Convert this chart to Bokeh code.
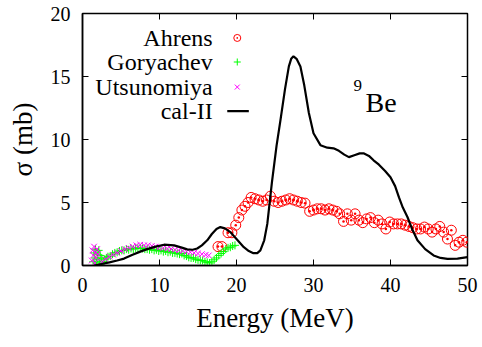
from bokeh.plotting import figure
from bokeh.models import Range1d, FixedTicker, Label
from bokeh.embed import file_html
from bokeh.resources import INLINE

# ---- data ----
ahrens_E = [17.6, 18.1, 18.9, 19.4, 19.9, 20.3, 20.7, 21.1, 21.5, 21.9, 22.4, 22.9, 23.4, 23.9,
            24.4, 24.9, 25.4, 25.9, 26.4, 26.9, 27.4, 27.9, 28.4, 28.9, 29.5, 30.0, 30.5, 31.0,
            31.5, 32.0, 32.5, 33.0, 33.4, 33.9, 34.4, 34.9, 35.4, 35.9, 36.4, 36.9, 37.4, 37.9,
            38.4, 38.9, 39.4, 39.9, 40.4, 40.9, 41.4, 41.9, 42.4, 42.9, 43.4, 43.9, 44.4, 44.9,
            45.4, 45.9, 46.4, 46.9, 47.4, 47.9, 48.4, 48.9, 49.4, 49.9]
ahrens_sig = [1.5, 1.5, 2.6, 2.6, 3.2, 3.8, 4.4, 4.7, 5.0, 5.4, 5.3, 5.2, 5.1, 5.2,
              5.5, 5.1, 5.0, 5.1, 5.2, 5.3, 5.2, 5.1, 5.0, 4.95, 4.3, 4.4, 4.5, 4.5,
              4.4, 4.5, 4.4, 4.3, 4.1, 3.5, 4.1, 3.6, 4.1, 3.6, 3.4, 3.7, 3.8, 3.4,
              3.6, 3.3, 2.9, 3.45, 3.3, 3.3, 3.3, 3.2, 3.1, 3.0, 2.9, 2.9, 3.05, 2.9,
              2.65, 2.9, 3.1, 2.65, 2.1, 2.8, 1.6, 1.85, 2.0, 1.85]

gory_E = [1.4, 1.5, 1.6, 1.7, 1.8, 1.9, 2.0, 2.1, 2.2, 2.3, 2.4, 2.5, 2.7, 2.9, 3.1, 3.3,
          3.6, 3.9, 4.2, 4.5, 4.8, 5.1, 5.4, 5.7, 6.0, 6.3, 6.6, 6.9, 7.2, 7.5, 7.8, 8.1,
          8.4, 8.7, 9.0, 9.3, 9.6, 9.9, 10.2, 10.5, 10.8, 11.1, 11.4, 11.7, 12.0, 12.3,
          12.6, 12.9, 13.2, 13.5, 13.8, 14.1, 14.4, 14.7, 15.0, 15.3, 15.6, 15.9, 16.2,
          16.5, 16.8, 17.1, 17.4, 17.7, 18.0, 18.3, 18.6, 18.9, 19.2, 19.5, 19.8]
gory_sig = [0.3, 1.0, 0.6, 1.3, 0.2, 0.9, 0.5, 1.2, 0.3, 0.8, 0.1, 0.6, 0.3, 0.5, 0.6, 0.7,
            0.75, 0.9, 1.0, 1.05, 1.15, 1.2, 1.2, 1.3, 1.25, 1.35, 1.3, 1.4, 1.35, 1.4, 1.35, 1.3,
            1.3, 1.25, 1.3, 1.2, 1.25, 1.15, 1.2, 1.1, 1.15, 1.05, 1.1, 1.0, 1.0, 0.95,
            0.9, 0.95, 0.8, 0.75, 0.65, 0.6, 0.6, 0.5, 0.45, 0.4, 0.4, 0.3, 0.25,
            0.2, 0.3, 0.45, 0.6, 0.8, 0.95, 1.1, 1.3, 1.4, 1.45, 1.55, 1.6]

utsu_E = [1.2, 1.3, 1.4, 1.5, 1.6, 1.7, 1.8, 1.9, 2.0, 2.5, 3.0, 3.5, 4.0, 4.5, 5.0, 5.5,
          6.0, 6.5, 7.0, 7.5, 8.0, 8.5, 9.0, 9.5, 10.0, 10.5, 11.0, 11.5, 12.0, 12.5,
          13.0, 13.5, 14.0, 14.5, 15.0, 15.5, 16.0, 16.4]
utsu_sig = [0.4, 1.2, 0.8, 1.5, 0.2, 1.0, 0.6, 1.3, 0.9, 0.3, 0.5, 0.7, 0.85, 1.0, 1.15, 1.3,
            1.4, 1.5, 1.6, 1.65, 1.6, 1.6, 1.55, 1.5, 1.45, 1.4, 1.35, 1.3, 1.25, 1.2,
            1.15, 1.1, 1.05, 1.0, 0.95, 0.9, 0.85, 0.8]

cal_E = [1.5, 2.3, 3.5, 4.5, 5.4, 6.5, 7.5, 8.4, 9.5, 10.6, 11.9, 13.0, 13.6, 14.3, 14.9,
         15.5, 16.2, 16.8, 17.4, 17.9, 18.5, 19.2, 20.0, 20.95, 21.6, 22.2, 22.7, 23.1,
         23.6, 24.0, 24.6, 25.2, 25.7, 26.3, 26.8, 27.1, 27.4, 27.8, 28.3, 28.8, 29.4,
         30.0, 30.9, 31.8, 32.6, 33.3, 34.0, 34.6, 35.3, 36.0, 36.5, 37.2, 37.8, 38.5,
         39.3, 40.0, 40.6, 41.1, 41.6, 42.2, 42.8, 43.5, 44.5, 45.6, 46.5, 47.4, 48.7, 50.0]
cal_sig = [0.0, 0.1, 0.25, 0.4, 0.55, 0.85, 1.1, 1.3, 1.5, 1.65, 1.6, 1.4, 1.28, 1.25, 1.35,
           1.6, 2.0, 2.5, 2.9, 3.05, 2.95, 2.65, 2.1, 1.45, 1.15, 0.98, 0.98, 1.2,
           2.0, 3.3, 6.6, 9.5, 11.5, 14.0, 15.8, 16.4, 16.6, 16.4, 15.8, 14.3, 12.1,
           10.5, 9.55, 9.35, 9.3, 9.1, 8.8, 8.6, 8.75, 8.9, 8.9, 8.7, 8.35, 8.0,
           7.5, 7.0, 6.3, 5.4, 4.6, 3.85, 2.9, 2.0, 1.3, 0.8, 0.6, 0.53, 0.55, 0.66]

series_names = ["Ahrens", "Goryachev", "Utsunomiya", "cal-II"]
x_ticks = [0, 10, 20, 30, 40, 50]
y_ticks = [0, 5, 10, 15, 20]

FONT = "Liberation Serif"
X0, X1, Y0, Y1 = 0, 50, 0, 20

p = figure(width=482, height=347, output_backend="svg", toolbar_location=None,
           x_range=Range1d(X0, X1), y_range=Range1d(Y0, Y1),
           min_border_left=82, min_border_right=15, min_border_top=13, min_border_bottom=82,
           x_axis_label="Energy (MeV)", y_axis_label="σ (mb)")
p.grid.visible = False
p.outline_line_color = "black"
p.outline_line_width = 1.5

for ax, ticks in ((p.xaxis[0], x_ticks), (p.yaxis[0], y_ticks)):
    ax.ticker = FixedTicker(ticks=ticks)
    ax.major_tick_in = 6
    ax.major_tick_out = 0
    ax.minor_tick_in = 0
    ax.minor_tick_out = 0
    ax.axis_line_color = "black"
    ax.axis_line_width = 1.5
    ax.major_tick_line_width = 1
    ax.major_tick_line_color = "black"
    ax.major_label_text_font = FONT
    ax.major_label_text_font_size = "20px"
    ax.major_label_text_color = "black"
    ax.axis_label_text_font = FONT
    ax.axis_label_text_font_size = "27px"
    ax.axis_label_text_font_style = "normal"
    ax.axis_label_text_color = "black"

p.xaxis[0].major_label_standoff = 12
p.xaxis[0].axis_label_standoff = 8
p.yaxis[0].major_label_standoff = 12
p.yaxis[0].axis_label_standoff = 10

# mirrored inward ticks on the top and right frame edges (6 px long)
tick_dy = 6 * (Y1 - Y0) / 252.0
tick_dx = 6 * (X1 - X0) / 385.0
p.segment(x0=x_ticks, y0=[Y1] * len(x_ticks), x1=x_ticks, y1=[Y1 - tick_dy] * len(x_ticks),
          line_color="black", line_width=1)
p.segment(x0=[X1] * len(y_ticks), y0=y_ticks, x1=[X1 - tick_dx] * len(y_ticks), y1=y_ticks,
          line_color="black", line_width=1)

p.scatter(ahrens_E, ahrens_sig, marker="circle_dot", size=10, fill_color=None,
          line_color="#ff0000", line_width=1)
p.scatter(gory_E, gory_sig, marker="cross", size=8, line_color="#00ff00", line_width=1)
p.scatter(utsu_E, utsu_sig, marker="x", size=8, line_color="#ff00ff", line_width=1)
p.line(cal_E, cal_sig, line_color="black", line_width=2.2)

# gnuplot-style key: label right-aligned, sample to its right
key_text_x = 16.9
key_x = 20.1
key_line = [18.8, 21.6]
key_y = [18.06, 16.15, 14.16, 12.25]
for name, yy in zip(series_names, key_y):
    p.add_layout(Label(x=key_text_x, y=yy, text=name, text_align="right", text_baseline="middle",
                       text_font=FONT, text_font_size="24px", text_color="black"))
p.scatter([key_x], [key_y[0]], marker="circle_dot", size=7, fill_color=None,
          line_color="#ff0000", line_width=1)
p.scatter([key_x], [key_y[1]], marker="cross", size=7, line_color="#00ff00", line_width=1)
p.scatter([key_x], [key_y[2]], marker="x", size=7, line_color="#ff00ff", line_width=1)
p.line(key_line, [key_y[3], key_y[3]], line_color="black", line_width=2.2)

p.add_layout(Label(x=35.2, y=14.3, text="9", text_font=FONT, text_font_size="17px",
                   text_baseline="alphabetic", text_color="black"))
p.add_layout(Label(x=36.75, y=12.9, text="Be", text_font=FONT, text_font_size="28px",
                   text_baseline="alphabetic", text_color="black"))

open("out.html", "w").write(file_html(p, INLINE))
